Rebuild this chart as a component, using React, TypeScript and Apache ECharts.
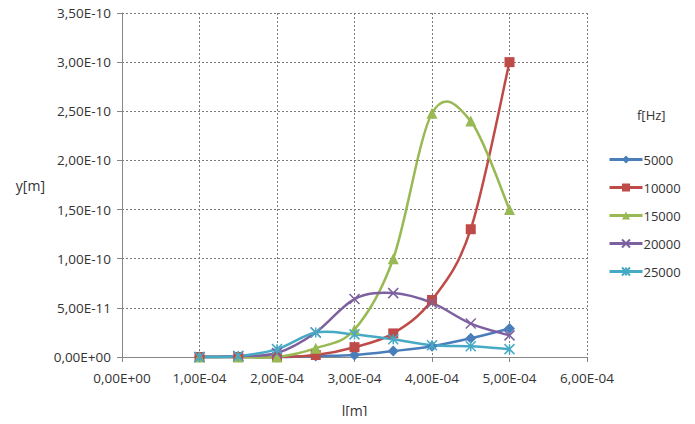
import React, { useEffect, useRef } from "react";
import * as echarts from "echarts";

const xValues = [1e-4, 1.5e-4, 2e-4, 2.5e-4, 3e-4, 3.5e-4, 4e-4, 4.5e-4, 5e-4];
const seriesNames = ["5000", "10000", "15000", "20000", "25000"];
const y5000 = [0, 0, 0, 0.1e-11, 0.2e-11, 0.6e-11, 1.1e-11, 1.9e-11, 2.9e-11];
const y10000 = [0, 0, 0, 0.2e-11, 1.0e-11, 2.4e-11, 5.8e-11, 1.3e-10, 3.0e-10];
const y15000 = [0, 0, 0, 0.9e-11, 2.8e-11, 1.0e-10, 2.48e-10, 2.4e-10, 1.5e-10];
const y20000 = [0, 0.1e-11, 0.4e-11, 2.5e-11, 5.9e-11, 6.5e-11, 5.5e-11, 3.4e-11, 2.2e-11];
const y25000 = [0, 0.1e-11, 0.8e-11, 2.5e-11, 2.3e-11, 1.8e-11, 1.2e-11, 1.1e-11, 0.8e-11];
const allY = [y5000, y10000, y15000, y20000, y25000];
const colors = ["#4a7ebb", "#be4b48", "#98b954", "#7d60a0", "#46aac5"];
const symbols = [
  "diamond",
  "rect",
  "triangle",
  "path://M0,0L10,10M10,0L0,10",
  "path://M0,0L10,10M10,0L0,10M5,0L5,10",
];
const symbolSizes = [11, 10, 11, 10, 10];

function fmt(v: number): string {
  let s = v.toExponential(2);
  const m = s.match(/^(-?[\d.]+)e([+-])(\d+)$/);
  if (!m) return s;
  const exp = m[3].padStart(2, "0");
  return m[1].replace(".", ",") + "E" + m[2] + exp;
}

function catmullPath(pts: number[][]): string {
  const n = pts.length;
  let d = `M${pts[0][0]},${pts[0][1]}`;
  for (let i = 0; i < n - 1; i++) {
    const p0 = pts[Math.max(0, i - 1)];
    const p1 = pts[i];
    const p2 = pts[i + 1];
    const p3 = pts[Math.min(n - 1, i + 2)];
    const c1x = p1[0] + (p2[0] - p0[0]) / 6;
    const c1y = p1[1] + (p2[1] - p0[1]) / 6;
    const c2x = p2[0] - (p3[0] - p1[0]) / 6;
    const c2y = p2[1] - (p3[1] - p1[1]) / 6;
    d += ` C${c1x},${c1y} ${c2x},${c2y} ${p2[0]},${p2[1]}`;
  }
  return d;
}

export default function App() {
  const ref = useRef<HTMLDivElement>(null);
  useEffect(() => {
    if (!ref.current) return;
    const chart = echarts.init(ref.current, null, { renderer: "svg" });
    const font = "'Open Sans', sans-serif";
    const textColor = "#333333";
    const curveSeries = seriesNames.map((name, i) => ({
      name: name + "_curve",
      type: "custom",
      z: 2,
      data: xValues.map((x, j) => [x, allY[i][j]]),
      encode: { x: 0, y: 1 },
      renderItem: (params: any, api: any) => {
        if (params.dataIndex !== 0) return null;
        const pts = xValues.map((x, j) => api.coord([x, allY[i][j]]));
        return {
          type: "path",
          shape: { pathData: catmullPath(pts) },
          style: { stroke: colors[i], lineWidth: 2.5, fill: "none" },
          silent: true,
        };
      },
    }));
    const markerSeries = seriesNames.map((name, i) => ({
      name,
      type: "line",
      z: 3,
      data: xValues.map((x, j) => [x, allY[i][j]]),
      symbol: symbols[i],
      symbolSize: symbolSizes[i],
      lineStyle: { color: colors[i], width: 2.5, opacity: 0 },
      itemStyle: {
        color: colors[i],
        borderColor: colors[i],
        borderWidth: i >= 3 ? 1.5 : 0,
      },
    }));
    chart.setOption({
      animation: false,
      backgroundColor: "#ffffff",
      grid: { left: 122, right: 108, top: 13, bottom: 67 },
      legend: {
        orient: "vertical",
        left: 603,
        top: 148,
        itemWidth: 33,
        itemHeight: 10,
        itemGap: 15,
        data: seriesNames,
        lineStyle: { opacity: 1, width: 3 },
        textStyle: { fontFamily: font, fontSize: 13, color: textColor, padding: [0, 0, 0, -4] },
      },
      graphic: [
        {
          type: "text",
          left: 637,
          top: 108,
          style: { text: "f[Hz]", fontFamily: font, fontSize: 13, fill: textColor },
        },
      ],
      xAxis: {
        type: "value",
        min: 0,
        max: 6e-4,
        interval: 1e-4,
        name: "l[m]",
        nameLocation: "middle",
        nameGap: 46,
        nameTextStyle: { fontFamily: font, fontSize: 14, color: textColor },
        axisLine: { show: true, lineStyle: { color: "#868686", width: 1 } },
        axisTick: { show: true, length: 5, inside: false, lineStyle: { color: "#868686" } },
        axisLabel: { formatter: fmt, fontFamily: font, fontSize: 13.5, color: textColor, margin: 14 },
        splitLine: { show: true, lineStyle: { color: "#7a7a7a", type: [2, 2], width: 1 } },
      },
      yAxis: {
        type: "value",
        min: 0,
        max: 3.5e-10,
        interval: 5e-11,
        name: "y[m]",
        nameLocation: "middle",
        nameGap: 77,
        nameRotate: 0,
        nameTextStyle: { fontFamily: font, fontSize: 14, color: textColor },
        axisLine: { show: true, lineStyle: { color: "#868686", width: 1 } },
        axisTick: { show: true, length: 5, inside: false, lineStyle: { color: "#868686" } },
        axisLabel: { formatter: fmt, fontFamily: font, fontSize: 13.5, color: textColor, margin: 11 },
        splitLine: { show: true, lineStyle: { color: "#7a7a7a", type: [2, 2], width: 1 } },
      },
      series: [...curveSeries, ...markerSeries],
    });
    return () => chart.dispose();
  }, []);
  return <div ref={ref} style={{ width: 695, height: 424, margin: -8 }} />;
}
